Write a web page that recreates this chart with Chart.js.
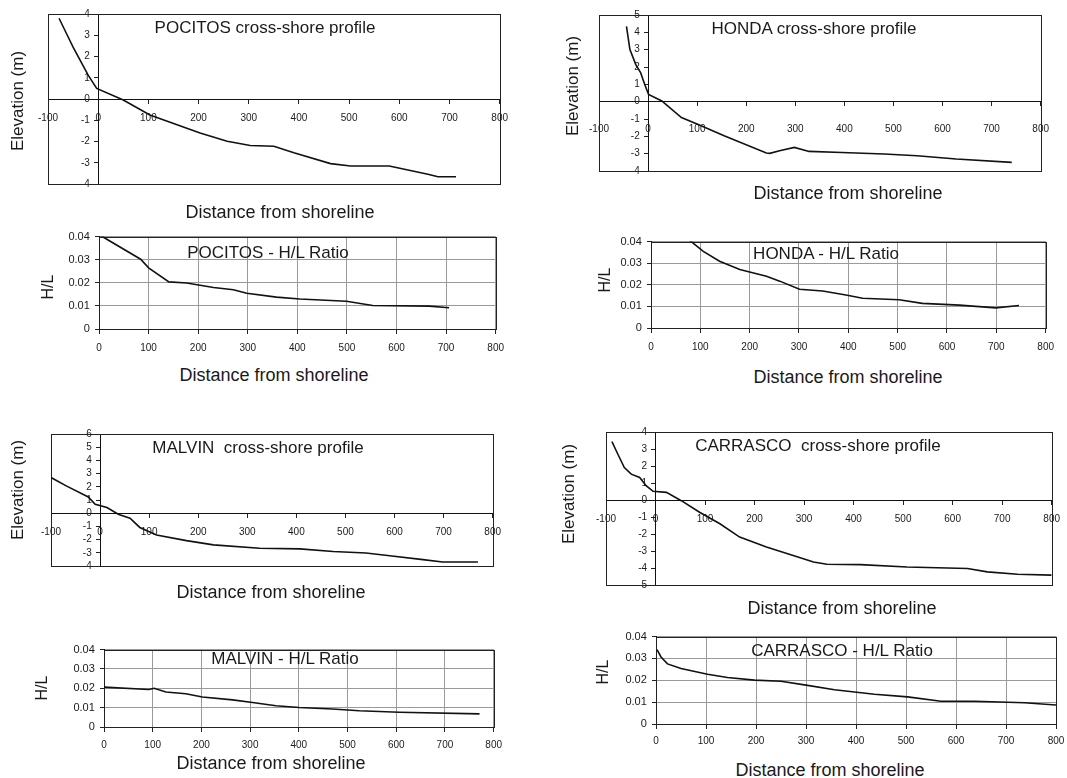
<!DOCTYPE html>
<html>
<head>
<meta charset="utf-8">
<script src="https://cdn.jsdelivr.net/npm/chart.js@4.4.1/dist/chart.umd.min.js"></script>
<style>
  body { margin: 0; background: #fff; width: 1067px; height: 778px; position: relative; overflow: hidden;
         font-family: "Liberation Sans", Arial, sans-serif; color: #1a1a1a; }
  canvas { position: absolute; }
  .lbl { position: absolute; transform: translate(-50%, -50%); white-space: pre; line-height: 1; z-index: 2; }
  .rot { transform: translate(-50%, -50%) rotate(-90deg); }
</style>
</head>
<body>
<script>
// values (distance in m, elevation in m)
const pocitosProfileX = [-78, -63, -50, -20, -3, 50, 103, 203, 257, 303, 350, 390, 463, 503, 580, 657, 677, 713];
const pocitosProfileY = [3.8, 3.07, 2.44, 1.12, 0.5, -0.05, -0.75, -1.6, -1.99, -2.19, -2.22, -2.53, -3.04, -3.15, -3.15, -3.54, -3.66, -3.66];

const hondaProfileX = [-44, -37, -25, -15, -7, 1, 28, 68, 101, 155, 241, 248, 268, 298, 328, 395, 481, 548, 628, 741];
const hondaProfileY = [4.34, 3.0, 2.14, 1.66, 1.0, 0.42, 0.04, -0.92, -1.3, -1.97, -2.96, -2.98, -2.83, -2.64, -2.87, -2.93, -3.02, -3.12, -3.31, -3.5];

const malvinProfileX = [-100, -68, -24, -10, 14, 37, 61, 81, 115, 176, 231, 325, 407, 475, 542, 586, 658, 698, 770];
const malvinProfileY = [2.7, 2.05, 1.23, 0.68, 0.43, -0.08, -0.38, -1.08, -1.65, -2.08, -2.4, -2.65, -2.7, -2.9, -3.02, -3.2, -3.52, -3.7, -3.7];

const carrascoProfileX = [-88, -76, -63, -49, -32, -19, -5, 22, 52, 89, 130, 170, 224, 278, 319, 346, 414, 508, 630, 670, 731, 800];
const carrascoProfileY = [3.43, 2.69, 1.91, 1.52, 1.33, 0.84, 0.51, 0.45, -0.04, -0.72, -1.4, -2.18, -2.77, -3.26, -3.65, -3.78, -3.8, -3.94, -4.03, -4.23, -4.37, -4.42];

// H/L ratio
const pocitosRatioX = [3, 84, 100, 141, 177, 231, 271, 298, 358, 405, 499, 552, 666, 706];
const pocitosRatioY = [0.0405, 0.0302, 0.0265, 0.0204, 0.0199, 0.018, 0.017, 0.0155, 0.0138, 0.013, 0.012, 0.0102, 0.0099, 0.0092];

const hondaRatioX = [69, 106, 139, 180, 234, 261, 301, 348, 395, 429, 503, 550, 625, 699, 746];
const hondaRatioY = [0.0423, 0.0355, 0.0309, 0.0271, 0.024, 0.0217, 0.0179, 0.0171, 0.0153, 0.0138, 0.0131, 0.0114, 0.0106, 0.0093, 0.0104];

const malvinRatioX = [0, 92, 103, 127, 168, 202, 264, 305, 353, 401, 469, 524, 606, 771];
const malvinRatioY = [0.0206, 0.0194, 0.02, 0.0181, 0.0172, 0.0155, 0.014, 0.0127, 0.011, 0.0101, 0.0093, 0.0084, 0.0076, 0.0068];

const carrascoRatioX = [2, 10, 23, 50, 103, 143, 197, 250, 297, 357, 437, 503, 570, 637, 737, 800];
const carrascoRatioY = [0.034, 0.0307, 0.0275, 0.0254, 0.0228, 0.0213, 0.0201, 0.0196, 0.0179, 0.0157, 0.0136, 0.0124, 0.0104, 0.0104, 0.0097, 0.0087];

Chart.defaults.font.family = '"Liberation Sans", Arial, sans-serif';
Chart.defaults.color = "#1a1a1a";

// box around the plot area
const frame = {
  id: "frame",
  beforeDatasetsDraw(chart) {
    const { ctx, chartArea: a } = chart;
    ctx.save();
    ctx.strokeStyle = "#222";
    ctx.lineWidth = 1;
    ctx.strokeRect(Math.round(a.left) + 0.5, Math.round(a.top) + 0.5,
      Math.round(a.right - a.left), Math.round(a.bottom - a.top));
    ctx.restore();
  }
};

const panels = [
  { xs: pocitosProfileX, ys: pocitosProfileY, box: [48, 13, 501, 184], xMin: -100, yMin: -4, yMax: 4, step: 1, grid: false, xPad: 9 },
  { xs: hondaProfileX, ys: hondaProfileY, box: [599, 14, 1051, 171], xMin: -100, yMin: -4, yMax: 5, step: 1, grid: false, xPad: 18 },
  { xs: pocitosRatioX, ys: pocitosRatioY, box: [99, 235, 497, 329], xMin: 0, yMin: 0, yMax: 0.04, step: 0.01, grid: true, xPad: 9 },
  { xs: hondaRatioX, ys: hondaRatioY, box: [651, 240, 1047, 328], xMin: 0, yMin: 0, yMax: 0.04, step: 0.01, grid: true, xPad: 9 },
  { xs: malvinProfileX, ys: malvinProfileY, box: [51, 433, 494, 566], xMin: -100, yMin: -4, yMax: 6, step: 1, grid: false, xPad: 9 },
  { xs: carrascoProfileX, ys: carrascoProfileY, box: [606, 431, 1053, 585], xMin: -100, yMin: -5, yMax: 4, step: 1, grid: false, xPad: 9 },
  { xs: malvinRatioX, ys: malvinRatioY, box: [104, 648, 494, 727], xMin: 0, yMin: 0, yMax: 0.04, step: 0.01, grid: true, xPad: 8 },
  { xs: carrascoRatioX, ys: carrascoRatioY, box: [656, 635, 1056, 724], xMin: 0, yMin: 0, yMax: 0.04, step: 0.01, grid: true, xPad: 7 }
];

function makePanel(p) {
  const m = { l: 45, t: 8, r: 16, b: 30 };
  const w = p.box[2] - p.box[0];
  const h = p.box[3] - p.box[1];
  const cv = document.createElement("canvas");
  cv.width = w + m.l + m.r;
  cv.height = h + m.t + m.b;
  cv.style.left = (p.box[0] - m.l) + "px";
  cv.style.top = (p.box[1] - m.t) + "px";
  document.body.appendChild(cv);

  const ratio = p.step < 1;
  // a y axis placed at x = 0 puts its labels right on the line, so pad them with spaces
  const gap = "   ";
  new Chart(cv, {
    type: "line",
    data: {
      datasets: [{
        data: p.xs.map((x, i) => ({ x: x, y: p.ys[i] })),
        borderColor: "#111",
        borderWidth: 1.6,
        pointRadius: 0,
        tension: 0
      }]
    },
    options: {
      responsive: false,
      animation: false,
      events: [],
      layout: { padding: { left: m.l, top: m.t, right: m.r, bottom: m.b } },
      plugins: { legend: { display: false }, tooltip: { enabled: false } },
      scales: {
        x: {
          type: "linear",
          position: { y: 0 },
          min: p.xMin,
          max: 800,
          ticks: { stepSize: 100, autoSkip: false, maxRotation: 0, font: { size: 10 }, padding: p.xPad },
          grid: { drawOnChartArea: p.grid, color: "#9a9a9a", tickLength: 4, tickColor: "#222" },
          border: { color: "#111" }
        },
        y: {
          type: "linear",
          position: { x: 0 },
          min: p.yMin,
          max: p.yMax,
          ticks: {
            stepSize: p.step, autoSkip: false, font: { size: ratio ? 11 : 10 },
            callback: (v) => (ratio ? (Math.abs(v) < 1e-9 ? "0" : v.toFixed(2)) : String(Math.round(v))) + gap
          },
          grid: { drawOnChartArea: p.grid, color: "#9a9a9a", tickLength: 4, tickColor: "#222" },
          border: { color: "#111" }
        }
      }
    },
    plugins: [frame]
  });
}

panels.forEach(makePanel);

function addText(text, x, y, size, rotated) {
  const d = document.createElement("div");
  d.className = rotated ? "lbl rot" : "lbl";
  d.textContent = text;
  d.style.left = x + "px";
  d.style.top = y + "px";
  d.style.fontSize = size + "px";
  document.body.appendChild(d);
}

const titles = [
  ["POCITOS cross-shore profile", 265, 27],
  ["HONDA cross-shore profile", 814, 28],
  ["POCITOS - H/L Ratio", 268, 252],
  ["HONDA - H/L Ratio", 826, 253],
  ["MALVIN  cross-shore profile", 258, 447],
  ["CARRASCO  cross-shore profile", 818, 445],
  ["MALVIN - H/L Ratio", 285, 658],
  ["CARRASCO - H/L Ratio", 842, 650]
];
titles.forEach((t) => addText(t[0], t[1], t[2], 17, false));

const xTitles = [[280, 212], [848, 193], [274, 375], [848, 377], [271, 592], [842, 608], [271, 763], [830, 770]];
xTitles.forEach((t) => addText("Distance from shoreline", t[0], t[1], 18, false));

const elevTitles = [[17, 101], [572, 86], [17, 490], [568, 494]];
elevTitles.forEach((t) => addText("Elevation (m)", t[0], t[1], 17, true));

const ratioTitles = [[48, 287], [605, 280], [42, 688], [603, 672]];
ratioTitles.forEach((t) => addText("H/L", t[0], t[1], 16, true));
</script>
</body>
</html>
